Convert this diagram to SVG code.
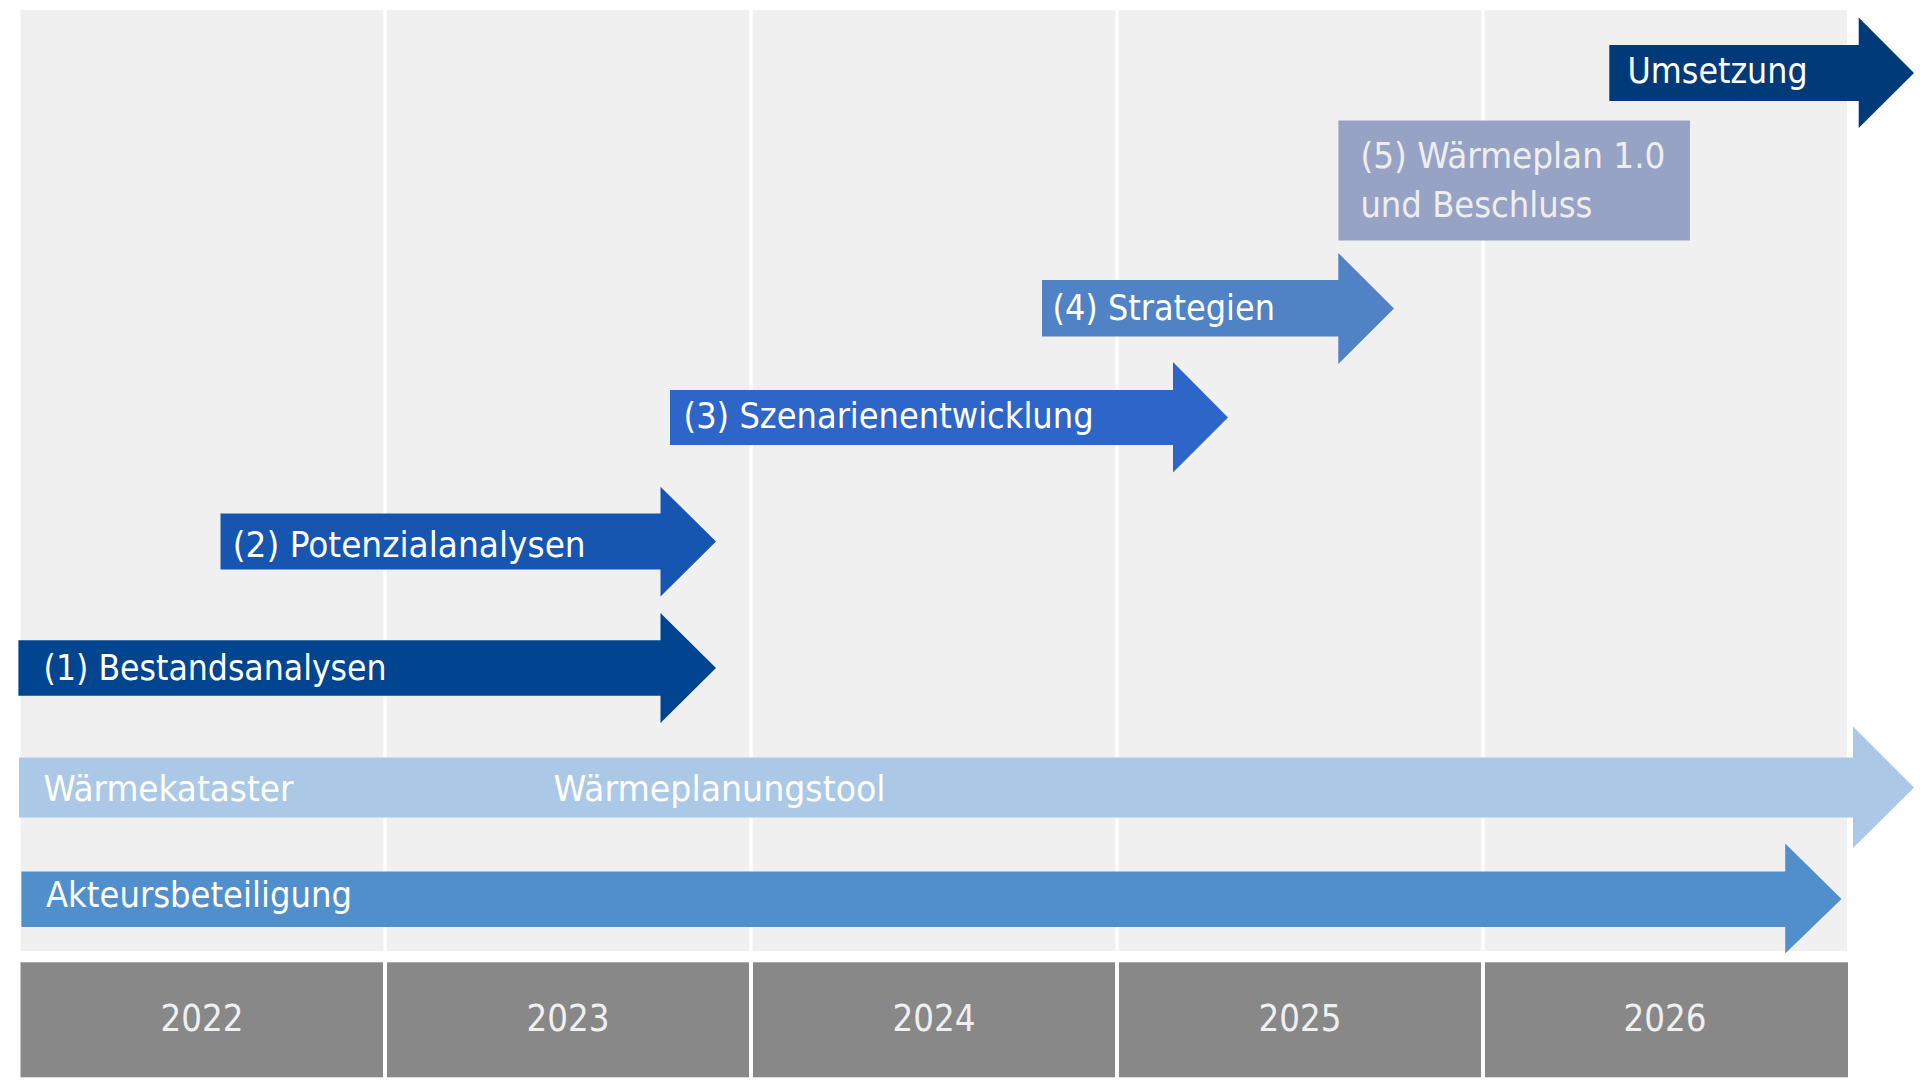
<svg xmlns="http://www.w3.org/2000/svg" width="1920" height="1081" viewBox="0 0 1920 1081">
<style>
.t{font-family:"Liberation Sans Narrow","DejaVu Sans Condensed","Liberation Sans",sans-serif;font-size:35px;fill:#ffffff}
.y{font-family:"Liberation Sans Narrow","DejaVu Sans Condensed","Liberation Sans",sans-serif;font-size:37px;fill:#f0f0f0;text-anchor:middle}
.sep{stroke:#ffffff;stroke-width:3.5}
.ysep{stroke:#ffffff;stroke-width:4}
</style>
<rect width="1920" height="1081" fill="#ffffff"/>
<g id="grid">
<rect x="20.5" y="10" width="1826.5" height="941" fill="#f0f0f0"/>
<line class="sep" x1="385" y1="10" x2="385" y2="951"/>
<line class="sep" x1="751" y1="10" x2="751" y2="951"/>
<line class="sep" x1="1117" y1="10" x2="1117" y2="951"/>
<line class="sep" x1="1483" y1="10" x2="1483" y2="951"/>
</g>
<g id="years">
<rect x="20.5" y="962.3" width="1827.5" height="115" fill="#888888"/>
<line class="ysep" x1="385" y1="962" x2="385" y2="1078"/>
<line class="ysep" x1="751" y1="962" x2="751" y2="1078"/>
<line class="ysep" x1="1117" y1="962" x2="1117" y2="1078"/>
<line class="ysep" x1="1483" y1="962" x2="1483" y2="1078"/>
<text class="y" x="202" y="1030.7" textLength="83" lengthAdjust="spacingAndGlyphs">2022</text>
<text class="y" x="568" y="1030.7" textLength="83" lengthAdjust="spacingAndGlyphs">2023</text>
<text class="y" x="934" y="1030.7" textLength="83" lengthAdjust="spacingAndGlyphs">2024</text>
<text class="y" x="1300" y="1030.7" textLength="83" lengthAdjust="spacingAndGlyphs">2025</text>
<text class="y" x="1665" y="1030.7" textLength="83" lengthAdjust="spacingAndGlyphs">2026</text>
</g>
<g id="waermekataster">
<path d="M19 757.5H1853V726.5L1914 787.5L1853 848V817.5H19Z" fill="#abc8e6"/>
<text class="t" x="43.4" y="800.7" textLength="250" lengthAdjust="spacingAndGlyphs">Wärmekataster</text>
<text class="t" x="553.6" y="800.7" textLength="332" lengthAdjust="spacingAndGlyphs">Wärmeplanungstool</text>
</g>
<g id="akteursbeteiligung">
<path d="M21.4 871.5H1785.2V843.5L1841.5 899L1785.2 953.5V927H21.4Z" fill="#508fcc"/>
<text class="t" x="46" y="906.7" textLength="306" lengthAdjust="spacingAndGlyphs">Akteursbeteiligung</text>
</g>
<g id="step1">
<path d="M18.4 640.3H660.5V613L716 668L660.5 723V695.7H18.4Z" fill="#014490"/>
<text class="t" x="43.6" y="680" textLength="343" lengthAdjust="spacingAndGlyphs">(1) Bestandsanalysen</text>
</g>
<g id="step2">
<path d="M220.5 513.5H660.5V486.7L716 541.5L660.5 596.5V569.5H220.5Z" fill="#1655b0"/>
<text class="t" x="232.7" y="556.7" textLength="353" lengthAdjust="spacingAndGlyphs">(2) Potenzialanalysen</text>
</g>
<g id="step3">
<path d="M670 390H1173V362L1228 417.5L1173 472.5V445H670Z" fill="#2d66c8"/>
<text class="t" x="683.6" y="428.3" textLength="410" lengthAdjust="spacingAndGlyphs">(3) Szenarienentwicklung</text>
</g>
<g id="step4">
<path d="M1042 280H1338.3V253L1394 308.5L1338.3 364V336.5H1042Z" fill="#5082c6"/>
<text class="t" x="1052.5" y="320" textLength="222.5" lengthAdjust="spacingAndGlyphs">(4) Strategien</text>
</g>
<g id="step5">
<rect x="1338.4" y="120.5" width="351.6" height="120" fill="#97a3c5"/>
<text class="t" x="1360.4" y="168.3" textLength="305" lengthAdjust="spacingAndGlyphs" style="fill:#eeeeee">(5) Wärmeplan 1.0</text>
<text class="t" x="1360.4" y="216.7" textLength="232" lengthAdjust="spacingAndGlyphs" style="fill:#eeeeee">und Beschluss</text>
</g>
<g id="umsetzung">
<path d="M1609.3 45H1858.7V17.5L1914 73L1858.7 128V101H1609.3Z" fill="#013a78"/>
<text class="t" x="1627.6" y="83.3" textLength="180" lengthAdjust="spacingAndGlyphs">Umsetzung</text>
</g>
<g id="connectors"/>
</svg>
